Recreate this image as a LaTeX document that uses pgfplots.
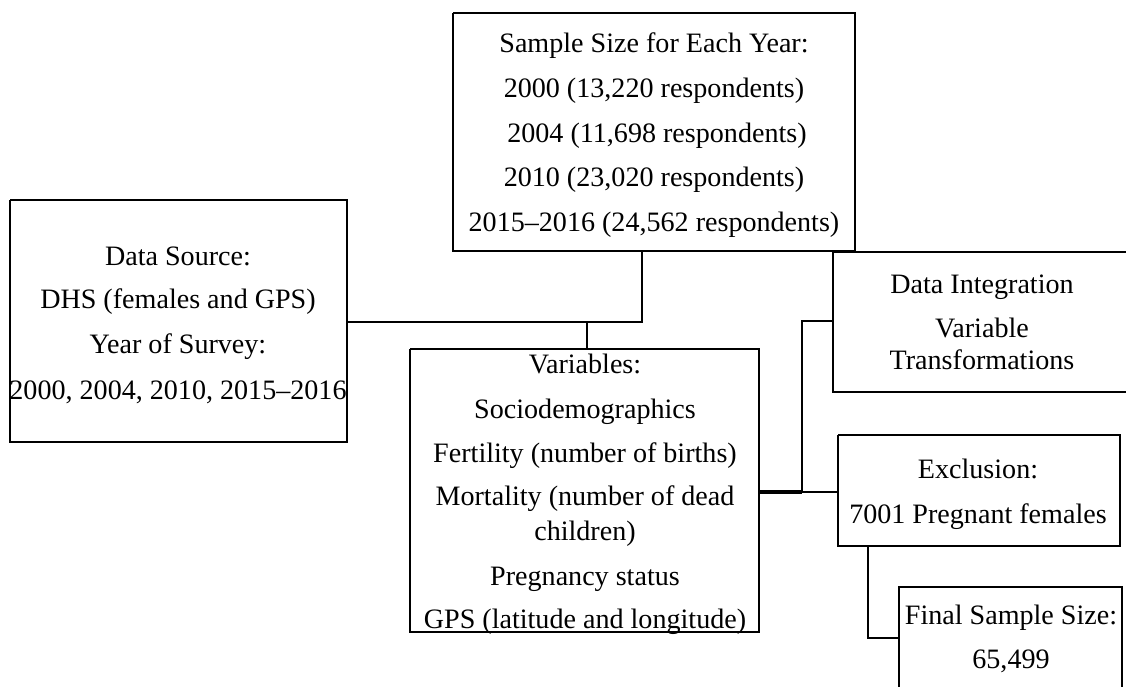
\documentclass[border=0pt]{standalone}
\usepackage{fontspec}
\setmainfont{Liberation Serif}
\usepackage{pgfplots}
\pgfplotsset{compat=1.18}
\begin{document}
\begin{tikzpicture}
\begin{axis}[
  scale only axis, width=563bp, height=343.5bp,
  xmin=0, xmax=1126, ymin=0, ymax=687, y dir=reverse,
  axis lines=none, xtick=\empty, ytick=\empty,
  clip=true,
  ln/.style={black, solid, line width=1.3bp, mark=none, line join=miter},
]
% boxes (pixel coordinates)
\addplot[ln] coordinates {(10,200) (347,200) (347,442) (10,442) (10,200)};
\addplot[ln] coordinates {(453,13) (855,13) (855,251) (453,251) (453,13)};
\addplot[ln] coordinates {(410,349) (759,349) (759,632) (410,632) (410,349)};
\addplot[ln] coordinates {(1135,252) (833,252) (833,392) (1135,392)};
\addplot[ln] coordinates {(838,435) (1120,435) (1120,546) (838,546) (838,435)};
\addplot[ln] coordinates {(899,695) (899,587) (1122,587) (1122,695)};
% connectors
\addplot[ln] coordinates {(347,322) (642,322) (642,251)};
\addplot[ln] coordinates {(587,322) (587,349)};
\addplot[ln, line width=1.8bp] coordinates {(759,492) (802,492)};
\addplot[ln] coordinates {(802,492) (838,492)};
\addplot[ln] coordinates {(833,321) (802,321) (802,492)};
\addplot[ln] coordinates {(868,546) (868,638) (899,638)};
% texts
\begin{scope}[every node/.style={anchor=mid, inner sep=0pt, font=\fontsize{14.1}{17}\selectfont}, yshift=-2.5bp]
\node at (axis cs:178,256) {Data Source:};
\node at (axis cs:178,299) {DHS (females and GPS)};
\node at (axis cs:178,344) {Year of Survey:};
\node at (axis cs:178,390) {2000, 2004, 2010, 2015--2016};
\node at (axis cs:654,43) {Sample Size for Each Year:};
\node at (axis cs:654,88) {2000 (13,220 respondents)};
\node at (axis cs:657,133) {2004 (11,698 respondents)};
\node at (axis cs:654,177) {2010 (23,020 respondents)};
\node at (axis cs:654,222) {2015--2016 (24,562 respondents)};
\node at (axis cs:585,364) {Variables:};
\node at (axis cs:585,409) {Sociodemographics};
\node at (axis cs:585,453) {Fertility (number of births)};
\node at (axis cs:585,496) {Mortality (number of dead};
\node at (axis cs:585,531) {children)};
\node at (axis cs:585,576) {Pregnancy status};
\node at (axis cs:585,619) {GPS (latitude and longitude)};
\node at (axis cs:982,284) {Data Integration};
\node at (axis cs:982,328) {Variable};
\node at (axis cs:982,360) {Transformations};
\node at (axis cs:978,469) {Exclusion:};
\node at (axis cs:978,514) {7001 Pregnant females};
\node at (axis cs:1011,615) {Final Sample Size:};
\node at (axis cs:1011,659) {65,499};
\end{scope}
\end{axis}
\path (current axis.south west) rectangle (current axis.north east);
\end{tikzpicture}
\end{document}
